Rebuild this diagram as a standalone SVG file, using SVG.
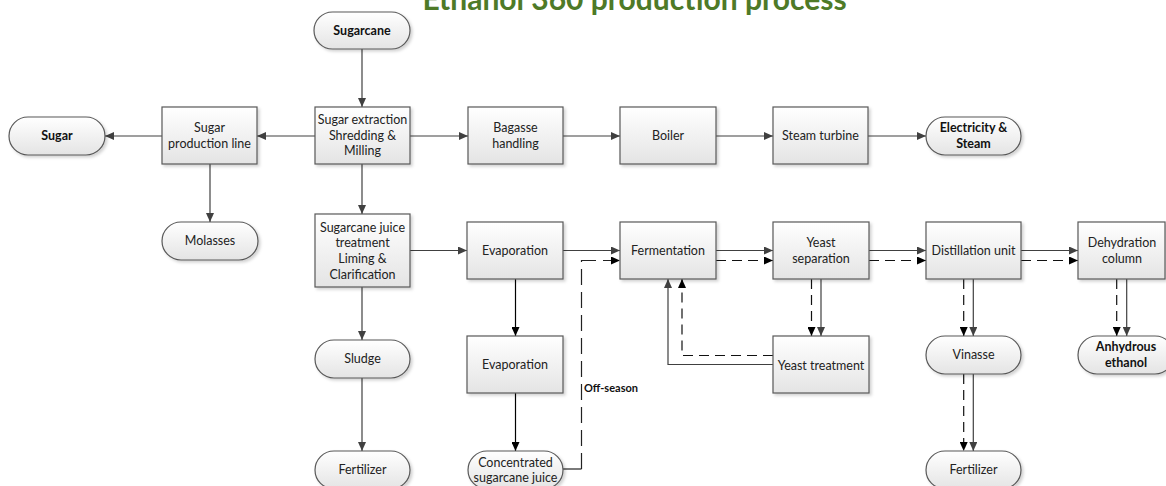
<svg xmlns="http://www.w3.org/2000/svg" width="1166" height="486" viewBox="0 0 1166 486">
<defs>
<linearGradient id="g" x1="0" y1="0" x2="0" y2="1">
<stop offset="0" stop-color="#ffffff"/>
<stop offset="1" stop-color="#e4e4e4"/>
</linearGradient>
<filter id="sh" x="-10%" y="-10%" width="130%" height="140%">
<feDropShadow dx="2" dy="2" stdDeviation="1.5" flood-color="#000" flood-opacity="0.18"/>
</filter>
<marker id="a" markerUnits="userSpaceOnUse" markerWidth="10" markerHeight="8" refX="9" refY="4" orient="auto">
<path d="M0,0 L9,4 L0,8 z" fill="#404040"/>
</marker>
<marker id="ak" markerUnits="userSpaceOnUse" markerWidth="10" markerHeight="8" refX="9" refY="4" orient="auto">
<path d="M0,0 L9,4 L0,8 z" fill="#000"/>
</marker>
</defs>
<style>
.box{fill:url(#g);stroke:#595959;stroke-width:1.2;filter:url(#sh)}
.t{font-family:Lato,"Liberation Sans",sans-serif;font-size:12.5px;fill:#222;text-anchor:middle}
.b{font-weight:bold;fill:#111}
.ln{fill:none;stroke:#404040;stroke-width:1.2;marker-end:url(#a)}
.lk{fill:none;stroke:#000;stroke-width:1.2;marker-end:url(#ak)}
.ds{fill:none;stroke:#111;stroke-width:1.2;stroke-dasharray:10,6;marker-end:url(#ak)}
.title{font-family:Lato,"Liberation Sans",sans-serif;font-size:30px;font-weight:bold;fill:#4e7a27;text-anchor:middle}
</style>
<text class="title" x="634.5" y="10">Ethanol 360 production process</text>

<g id="connectors">
<path class="ln" d="M362,49 V107"/>
<path class="ln" d="M315,136 H257"/>
<path class="ln" d="M162,136 H105"/>
<path class="ln" d="M210,164 V222"/>
<path class="ln" d="M410,136 H468"/>
<path class="ln" d="M563,136 H620"/>
<path class="ln" d="M716,136 H773"/>
<path class="ln" d="M868,136 H926"/>
<path class="ln" d="M362,164 V214"/>
<path class="ln" d="M410,250.5 H467"/>
<path class="ln" d="M362,287 V340"/>
<path class="ln" d="M362,378 V451"/>
<path class="ln" d="M563,250.5 H620"/>
<path class="lk" d="M515.5,279 V336"/>
<path class="lk" d="M515.5,393 V451"/>
<path fill="none" stroke="#222" stroke-width="1.2" d="M563,469 H581.5"/>
<path fill="none" stroke="#222" stroke-width="1.2" stroke-dasharray="16,7" marker-end="url(#ak)" d="M581.5,469 V260.5 H620"/>
<path class="ln" d="M716,250.5 H773"/>
<path class="ds" d="M716,260.5 H773"/>
<path class="ln" d="M869,250.5 H926"/>
<path class="ds" d="M869,260.5 H926"/>
<path class="ln" d="M1021,250.5 H1078"/>
<path class="ds" d="M1021,260.5 H1078"/>
<path class="ds" d="M811.5,279 V336"/>
<path class="ln" d="M821,279 V336"/>
<path class="ds" d="M773,355.5 H682 V279"/>
<path class="ln" d="M773,364.5 H668 V279"/>
<path class="ds" d="M963.7,279 V336"/>
<path class="ln" d="M973.3,279 V336"/>
<path class="ds" d="M963.7,374 V451"/>
<path class="ln" d="M973.3,374 V451"/>
<path class="ds" d="M1116.7,279 V336"/>
<path class="ln" d="M1126.7,279 V336"/>
</g>

<g id="sugarcane"><rect class="box" x="314" y="12" width="96" height="37" rx="18.5"/><text class="t b" x="362" y="34.5">Sugarcane</text></g>
<g id="sugar-extraction"><rect class="box" x="315" y="107" width="95" height="57"/><text class="t" x="362.5" y="124">Sugar extraction</text><text class="t" x="362.5" y="139.5">Shredding &amp;</text><text class="t" x="362.5" y="155">Milling</text></g>
<g id="sugar-production-line"><rect class="box" x="162" y="107" width="95" height="57"/><text class="t" x="209.5" y="132">Sugar</text><text class="t" x="209.5" y="147.5">production line</text></g>
<g id="sugar"><rect class="box" x="9" y="117" width="96" height="38" rx="19"/><text class="t b" x="57" y="140">Sugar</text></g>
<g id="molasses"><rect class="box" x="162" y="222" width="96" height="38" rx="19"/><text class="t" x="210" y="245">Molasses</text></g>
<g id="bagasse-handling"><rect class="box" x="468" y="107" width="95" height="57"/><text class="t" x="515.5" y="132">Bagasse</text><text class="t" x="515.5" y="147.5">handling</text></g>
<g id="boiler"><rect class="box" x="620" y="107" width="96" height="57"/><text class="t" x="668" y="140">Boiler</text></g>
<g id="steam-turbine"><rect class="box" x="773" y="107" width="95" height="57"/><text class="t" x="820.5" y="140">Steam turbine</text></g>
<g id="electricity-steam"><rect class="box" x="926" y="117" width="95" height="38" rx="19"/><text class="t b" x="973.5" y="132">Electricity &amp;</text><text class="t b" x="973.5" y="147.5">Steam</text></g>
<g id="juice-treatment"><rect class="box" x="315" y="214" width="95" height="73"/><text class="t" x="362.5" y="231.5">Sugarcane juice</text><text class="t" x="362.5" y="247">treatment</text><text class="t" x="362.5" y="263">Liming &amp;</text><text class="t" x="362.5" y="278.5">Clarification</text></g>
<g id="evaporation-1"><rect class="box" x="467" y="222" width="96" height="57"/><text class="t" x="515" y="255">Evaporation</text></g>
<g id="fermentation"><rect class="box" x="620" y="222" width="96" height="57"/><text class="t" x="668" y="255">Fermentation</text></g>
<g id="yeast-separation"><rect class="box" x="773" y="222" width="96" height="57"/><text class="t" x="821" y="247">Yeast</text><text class="t" x="821" y="262.5">separation</text></g>
<g id="distillation-unit"><rect class="box" x="926" y="222" width="95" height="57"/><text class="t" x="973.5" y="255">Distillation unit</text></g>
<g id="dehydration-column"><rect class="box" x="1078" y="222" width="87" height="57"/><text class="t" x="1122" y="247">Dehydration</text><text class="t" x="1122" y="262.5">column</text></g>
<g id="sludge"><rect class="box" x="315" y="340" width="95" height="38" rx="19"/><text class="t" x="362.5" y="363">Sludge</text></g>
<g id="evaporation-2"><rect class="box" x="467" y="336" width="96" height="57"/><text class="t" x="515" y="369">Evaporation</text></g>
<g id="yeast-treatment"><rect class="box" x="773" y="336" width="96" height="57"/><text class="t" x="821" y="369.5">Yeast treatment</text></g>
<g id="vinasse"><rect class="box" x="926" y="336" width="95" height="38" rx="19"/><text class="t" x="973.5" y="359">Vinasse</text></g>
<g id="anhydrous-ethanol"><rect class="box" x="1078" y="336" width="96" height="38" rx="19"/><text class="t b" x="1126" y="351">Anhydrous</text><text class="t b" x="1126" y="366.5">ethanol</text></g>
<g id="fertilizer-1"><rect class="box" x="315" y="451" width="95" height="38" rx="19"/><text class="t" x="362.5" y="474">Fertilizer</text></g>
<g id="concentrated-juice"><rect class="box" x="468" y="451" width="95" height="38" rx="19"/><text class="t" x="515.5" y="467">Concentrated</text><text class="t" x="515.5" y="482">sugarcane juice</text></g>
<g id="fertilizer-2"><rect class="box" x="926" y="451" width="95" height="38" rx="19"/><text class="t" x="973.5" y="474">Fertilizer</text></g>
<g id="off-season-label"><text class="t b" x="584" y="392" style="text-anchor:start;font-size:11px">Off-season</text></g>
</svg>
